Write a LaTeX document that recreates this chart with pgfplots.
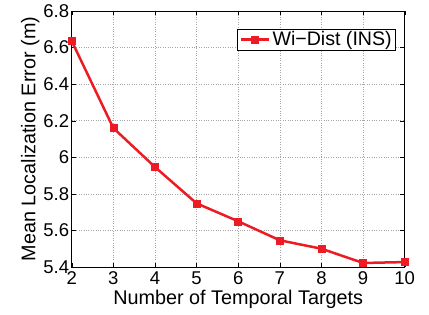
\documentclass[border=0pt]{standalone}
\usepackage{pgfplots}
\pgfplotsset{compat=1.18}
\usepackage{fontspec}
\setmainfont{Liberation Sans}
\definecolor{lred}{RGB}{237,28,36}
\begin{document}
\begin{tikzpicture}
\begin{axis}[
  scale only axis,
  width=333pt, height=256pt,
  xmin=2, xmax=10, ymin=5.4, ymax=6.8,
  xtick={2,3,...,10},
  ytick={5.4,5.6,...,6.8},
  yticklabel style={/pgf/number format/fixed, /pgf/number format/precision=1, xshift=1pt},
  xticklabel style={yshift=-1pt},
  /pgf/number format/assume math mode=true,
  tick label style={font=\fontsize{18.5}{20}\selectfont},
  label style={font=\fontsize{19.8}{22}\selectfont},
  xlabel={Number of Temporal Targets},
  ylabel={Mean Localization Error (m)},
  xlabel style={yshift=1pt},
  ylabel style={yshift=-3pt},
  grid=major,
  major grid style={dotted, gray!70, line width=0.6pt},
  tick align=inside,
  tick style={black},
  axis line style={black, line width=0.6pt},
  legend style={at={(0.974,0.93)}, anchor=north east, draw=black, line width=0.6pt,
    font=\fontsize{19.6}{21}\selectfont, inner xsep=2pt, inner ysep=0.5pt},
  legend image code/.code={\draw[mark repeat=2, mark phase=2] plot coordinates {(0cm,0cm) (0.5cm,0cm) (1cm,0cm)};},
  legend cell align=left,
]
\addplot[lred, line width=2.5pt, mark=square*, mark size=3.5pt, mark options={solid, fill=lred, line width=0.5pt}]
coordinates {(2,6.636) (3,6.160) (4,5.947) (5,5.748) (6,5.650) (7,5.546) (8,5.500) (9,5.422) (10,5.427)};
\addlegendentry{Wi\textminus Dist (INS)}
\end{axis}
\path (current axis.south west) ++(-71.7pt,-47pt) rectangle ++(429pt,314pt);
\end{tikzpicture}
\end{document}
